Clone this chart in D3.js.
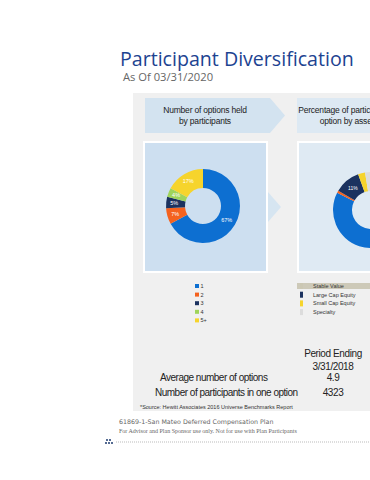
<!DOCTYPE html>
<html>
<head>
<meta charset="utf-8">
<script src="https://cdn.jsdelivr.net/npm/d3@7"></script>
<style>
  html, body { margin: 0; padding: 0; background: #fff; }
  svg { display: block; }
  text { font-family: "Liberation Sans", Arial, sans-serif; }
</style>
</head>
<body>
<svg id="chart" width="370" height="480"></svg>
<script>
// data
var optionLabels = ['1', '2', '3', '4', '5+'];
var optionValues = [67, 7, 5, 4, 17];

var assetClasses = ['Asset Allocation', 'Bond', 'Large Cap Equity', 'Small Cap Equity', 'Specialty', 'Stable Value'];
var assetValues  = [55, 1, 11, 3, 6, 24];
var assetLegend  = ['Stable Value', 'Large Cap Equity', 'Small Cap Equity', 'Specialty'];

var periodHeader = ['Period Ending', '3/31/2018'];
var statLabels   = ['Average number of options', 'Number of participants in one option'];
var statValues   = ['4.9', '4323'];

// colours
var optionColor = d3.scaleOrdinal()
  .domain(optionLabels)
  .range(['#0d6fd1', '#f4621f', '#1b325f', '#9fd45a', '#f6d42c']);

var assetColor = d3.scaleOrdinal()
  .domain(assetClasses)
  .range(['#0d6fd1', '#f4621f', '#1b325f', '#f6d42c', '#dcdcdc', '#cbc7b3']);

var svg = d3.select('#chart');

/**
 * Header
 */
svg.append('text')
  .attr('x', 120).attr('y', 66)
  .style('font-family', '"Open Sans", sans-serif')
  .style('font-size', '19.6px')
  .attr('fill', '#1d4391')
  .text('Participant Diversification');

svg.append('text')
  .attr('x', 123).attr('y', 81)
  .style('font-family', '"Open Sans", sans-serif')
  .style('font-size', '11.2px')
  .attr('fill', '#666')
  .text('As Of 03/31/2020');

/**
 * Grey panel + chevrons
 */
svg.append('rect')
  .attr('x', 133).attr('y', 93)
  .attr('width', 237).attr('height', 318)
  .attr('fill', '#f0f0f0');

function chevron(x, y, w, h, tip) {
  return [[x, y], [x + w - tip, y], [x + w, y + h / 2], [x + w - tip, y + h], [x, y + h]];
}
var line = d3.line();

svg.append('path')
  .attr('d', line(chevron(145, 98, 140, 35, 15)) + 'Z')
  .attr('fill', '#d3e3f0');
svg.append('path')
  .attr('d', line(chevron(297, 98, 140, 35, 15)) + 'Z')
  .attr('fill', '#dde9f3');

var chevText = [
  { x: 205, lines: ['Number of options held', 'by participants'] },
  { x: 357, lines: ['Percentage of participants in one', 'option by asset class'] }
];
chevText.forEach(function (c) {
  c.lines.forEach(function (l, i) {
    svg.append('text')
      .attr('x', c.x).attr('y', 113 + i * 11)
      .attr('text-anchor', 'middle')
      .style('font-size', '8.5px')
      .style('letter-spacing', '-0.2px')
      .attr('fill', '#222')
      .text(l);
  });
});

/**
 * Chart boxes
 */
svg.append('rect')
  .attr('x', 144).attr('y', 142)
  .attr('width', 123).attr('height', 130)
  .attr('fill', '#cddff0')
  .attr('stroke', '#fff').attr('stroke-width', 2);

svg.append('path')
  .attr('d', line([[268, 192], [281, 207], [268, 222]]) + 'Z')
  .attr('fill', '#d6e5f1');

svg.append('rect')
  .attr('x', 298).attr('y', 142)
  .attr('width', 80).attr('height', 130)
  .attr('fill', '#dfeaf3')
  .attr('stroke', '#fff').attr('stroke-width', 2);

/**
 * Donut 1 : number of options
 */
var pie = d3.pie().sort(null).value(function (d) { return d.value; });

var arc1 = d3.arc().innerRadius(18).outerRadius(37);
var labelArc1 = d3.arc().innerRadius(29).outerRadius(29);

var donut1 = svg.append('g').attr('transform', 'translate(203,206)');
var slices1 = pie(optionLabels.map(function (k, i) { return { key: k, value: optionValues[i] }; }));

donut1.selectAll('path')
  .data(slices1)
  .enter()
  .append('path')
  .attr('d', arc1)
  .attr('fill', function (d) { return optionColor(d.data.key); });

donut1.selectAll('text')
  .data(slices1)
  .enter()
  .append('text')
  .attr('transform', function (d) {
    var c = d.data.key === '1' ? arc1.centroid(d) : labelArc1.centroid(d);
    return 'translate(' + c + ')';
  })
  .attr('text-anchor', 'middle')
  .attr('dy', '0.35em')
  .style('font-size', '5.5px')
  .attr('fill', '#fff')
  .text(function (d) { return d.data.value + '%'; });

/**
 * Donut 2 : asset class (partially off page)
 */
var pie2 = d3.pie().sort(null)
  .startAngle(99 * Math.PI / 180)
  .endAngle(99 * Math.PI / 180 + 2 * Math.PI)
  .value(function (d) { return d.value; });

var arc2 = d3.arc().innerRadius(19).outerRadius(38);
var donut2 = svg.append('g').attr('transform', 'translate(371,210)');
var slices2 = pie2(assetClasses.map(function (k, i) { return { key: k, value: assetValues[i] }; }));

donut2.selectAll('path')
  .data(slices2)
  .enter()
  .append('path')
  .attr('d', arc2)
  .attr('fill', function (d) { return assetColor(d.data.key); });

donut2.selectAll('text')
  .data(slices2.filter(function (d) { return d.data.key === 'Large Cap Equity'; }))
  .enter()
  .append('text')
  .attr('transform', function (d) { return 'translate(' + arc2.centroid(d) + ')'; })
  .attr('text-anchor', 'middle')
  .attr('dy', '0.35em')
  .style('font-size', '5px')
  .attr('fill', '#fff')
  .text(function (d) { return d.data.value + '%'; });

/**
 * Legends
 */
var legend1 = svg.append('g').attr('transform', 'translate(195,284)');
var leg1 = legend1.selectAll('g')
  .data(optionLabels)
  .enter()
  .append('g')
  .attr('transform', function (d, i) { return 'translate(0,' + (i * 8.6) + ')'; });
leg1.append('rect')
  .attr('width', 4).attr('height', 4)
  .attr('fill', function (d) { return optionColor(d); });
leg1.append('text')
  .attr('x', 5.5).attr('y', 4)
  .style('font-size', '5.5px')
  .attr('fill', '#333')
  .text(function (d) { return d; });

svg.append('rect')
  .attr('x', 297).attr('y', 283)
  .attr('width', 73).attr('height', 6)
  .attr('fill', '#cdc9b8');

var legend2 = svg.append('g').attr('transform', 'translate(300,283)');
var leg2 = legend2.selectAll('g')
  .data(assetLegend)
  .enter()
  .append('g')
  .attr('transform', function (d, i) { return 'translate(0,' + (i * 8.7) + ')'; });
leg2.append('rect')
  .attr('width', 3).attr('height', 6)
  .attr('fill', function (d) { return assetColor(d); });
leg2.append('text')
  .attr('x', 13).attr('y', 5)
  .style('font-size', '5.5px')
  .attr('fill', '#333')
  .text(function (d) { return d; });

/**
 * Table
 */
periodHeader.forEach(function (t, i) {
  svg.append('text')
    .attr('x', 333).attr('y', 357 + i * 13)
    .attr('text-anchor', 'middle')
    .style('font-size', '10px')
    .style('letter-spacing', '-0.4px')
    .attr('fill', '#222')
    .text(t);
});

statLabels.forEach(function (t, i) {
  svg.append('text')
    .attr('x', 160 - i * 5).attr('y', 381 + i * 15)
    .style('font-size', '10px')
    .style('letter-spacing', '-0.5px')
    .attr('fill', '#222')
    .text(t);
  svg.append('text')
    .attr('x', 333).attr('y', 381 + i * 15)
    .attr('text-anchor', 'middle')
    .style('font-size', '10px')
    .style('letter-spacing', '-0.4px')
    .attr('fill', '#222')
    .text(statValues[i]);
});

svg.append('text')
  .attr('x', 140).attr('y', 409)
  .style('font-size', '5.5px')
  .attr('fill', '#333')
  .text('*Source: Hewitt Associates 2016 Universe Benchmarks Report');

/**
 * Footer
 */
svg.append('text')
  .attr('x', 119).attr('y', 424)
  .style('font-family', '"DejaVu Sans", sans-serif')
  .style('font-size', '6.3px')
  .attr('fill', '#666')
  .text('61869-1-San Mateo Deferred Compensation Plan');

svg.append('text')
  .attr('x', 119).attr('y', 433)
  .style('font-family', '"Liberation Serif", serif')
  .style('font-size', '6px')
  .attr('fill', '#666')
  .text('For Advisor and Plan Sponsor use only.  Not for use with Plan Participants');

svg.append('line')
  .attr('x1', 116).attr('x2', 370)
  .attr('y1', 442).attr('y2', 442)
  .attr('stroke', '#bbb')
  .attr('stroke-width', 1)
  .attr('stroke-dasharray', '1,1');

var logoDots = [[107, 440], [110, 440], [106, 443], [109, 443], [112, 443]];
svg.selectAll('circle.logo')
  .data(logoDots)
  .enter()
  .append('circle')
  .attr('class', 'logo')
  .attr('cx', function (d) { return d[0]; })
  .attr('cy', function (d) { return d[1]; })
  .attr('r', 1)
  .attr('fill', '#1d3a6e');
</script>
</body>
</html>
